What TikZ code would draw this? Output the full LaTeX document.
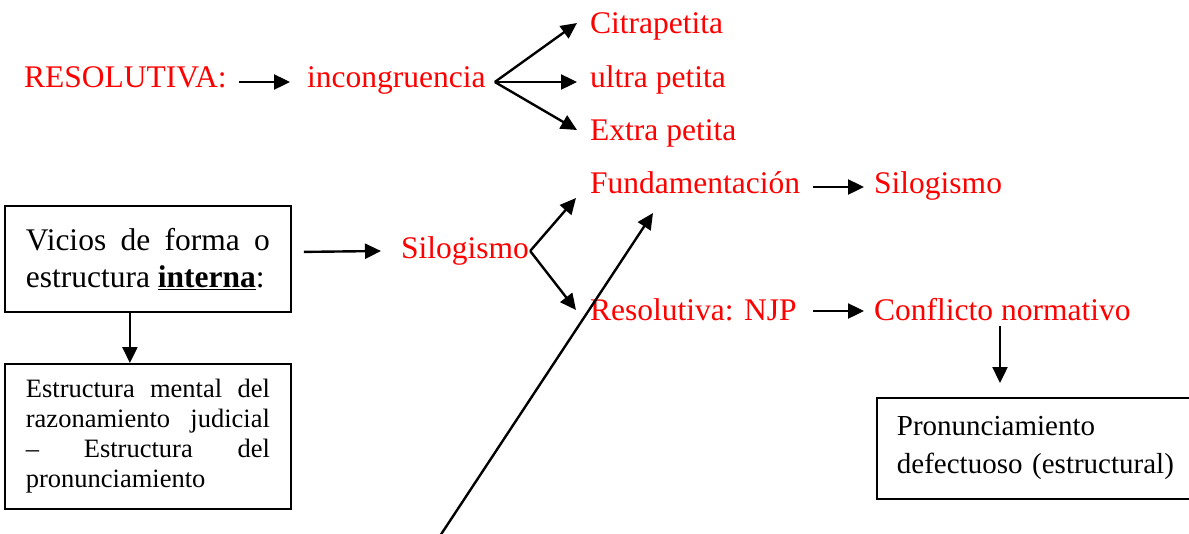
\documentclass[tikz,border=0pt]{standalone}
\usepackage{fontspec}
\setmainfont{Liberation Serif}
\usetikzlibrary{arrows.meta}
\definecolor{red}{RGB}{255,0,0}
\begin{document}
\begin{tikzpicture}[x=1pt,y=-1pt,
  red text/.style={text=red, inner sep=0pt, anchor=base west, font=\fontsize{31.5}{37}\selectfont},
  arr/.style={line width=2.4pt, -{Triangle[length=16pt,width=15pt]}},
  fork/.style={line width=2.4pt, -{Triangle[length=16pt,width=15pt]}, line join=miter},
  box/.style={draw, line width=1.8pt, inner ysep=0pt, anchor=north west}]
\useasboundingbox (0,0) rectangle (1189,533);
\clip (0,0) rectangle (1189,533);

% red texts
\node[red text] (resol) at (24,87) {RESOLUTIVA:};
\node[red text] (inc) at (307,87) {incongruencia};
\node[red text] (citra) at (590,33) {Citrapetita};
\node[red text] (ultra) at (590,87) {ultra petita};
\node[red text] (extra) at (590,140) {Extra petita};
\node[red text] (fund) at (590,193) {Fundamentación};
\node[red text] (silR) at (874,193) {Silogismo};
\node[red text] (silM) at (401,258) {Silogismo};
\node[red text] (resNJP) at (590,320) {Resolutiva: NJP};
\node[red text] (confl) at (874,320) {Conflicto normativo};

% boxes
\node[box, text width=244pt, inner xsep=21pt, minimum height=106pt, align=justify,
  font=\fontsize{31.5}{37}\selectfont] (vicios) at (4,205)
  {Vicios de forma o\linebreak estructura \textbf{\underline{interna}}:};
\node[box, text width=244pt, inner xsep=21pt, minimum height=145pt, align=justify,
  font=\fontsize{26.5}{30}\selectfont] (estr) at (4,363)
  {Estructura mental del\linebreak razonamiento judicial\linebreak – Estructura del\linebreak pronunciamiento};
\node[box, text width=290pt, inner xsep=20pt, minimum height=101pt, align=left,
  font=\fontsize{29}{38}\selectfont] (pron) at (876,397)
  {Pronunciamiento\\defectuoso (estructural)};

% connectors
\draw[arr] ([xshift=12pt,yshift=5pt]resol.base east) -- ([xshift=-17pt,yshift=5pt]inc.base west);
\coordinate (f1) at ([xshift=9pt,yshift=5pt]inc.base east);
\draw[fork] (f1) -- ([xshift=-13pt,yshift=10pt]citra.base west);
\draw[fork] (f1) -- ([xshift=-13pt,yshift=5pt]ultra.base west);
\draw[fork] (f1) -- ([xshift=-13pt,yshift=10pt]extra.base west);

\draw[arr] ([xshift=12pt,yshift=7pt]vicios.east) -- ([xshift=-20pt,yshift=7pt]silM.base west);
\coordinate (f2) at ([xshift=1pt,yshift=7pt]silM.base east);
\draw[fork] (f2) -- ([xshift=-14pt,yshift=-5pt]fund.base west);
\draw[fork] (f2) -- ([xshift=-14pt,yshift=10pt]resNJP.base west);

\draw[arr] ([xshift=-61pt,yshift=6pt]silR.base west) -- ([xshift=-10pt,yshift=6pt]silR.base west);
\draw[arr] ([xshift=-61pt,yshift=9pt]confl.base west) -- ([xshift=-10pt,yshift=9pt]confl.base west);

\draw[arr] ([xshift=126pt,yshift=-6pt]confl.base west) -- ([xshift=124pt,yshift=14pt]pron.north west);
\draw[arr] ([xshift=-18pt]vicios.south) -- ([xshift=-18pt]estr.north);

\coordinate (lstart) at (436,542);
\draw[arr] (lstart) -- ([xshift=63pt,yshift=-20pt]fund.base west);
\end{tikzpicture}
\end{document}
